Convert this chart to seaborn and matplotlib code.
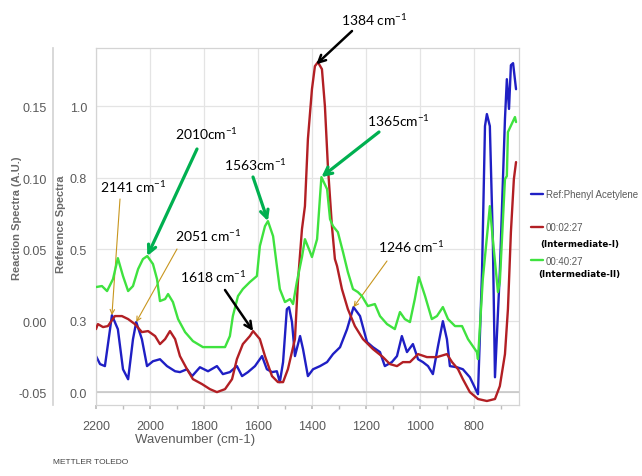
import numpy as np
import seaborn as sns
import matplotlib.pyplot as plt
from matplotlib.ticker import MultipleLocator

# --- data (wavenumber in cm-1) ---
# reference spectrum, phenyl acetylene (Reference Spectra axis)
blue_wn = [2200, 2185, 2167, 2148, 2141, 2119, 2100, 2081, 2063, 2051, 2030, 2011, 1989, 1963,
           1937, 1907, 1889, 1863, 1844, 1815, 1785, 1752, 1730, 1704, 1678, 1659, 1637, 1611,
           1585, 1567, 1548, 1530, 1519, 1507, 1493, 1485, 1474, 1463, 1444, 1433, 1415, 1396,
           1370, 1344, 1322, 1296, 1270, 1246, 1222, 1196, 1174, 1148, 1130, 1104, 1085, 1067,
           1048, 1026, 1007, 989, 970, 952, 933, 915, 900, 889, 863, 841, 815, 785, 770, 759,
           752, 741, 730, 722, 704, 685, 678, 670, 663, 655, 644]
blue_ref = [0.126, 0.098, 0.091, 0.220, 0.269, 0.220, 0.080, 0.045, 0.185, 0.245, 0.185, 0.091,
            0.108, 0.115, 0.091, 0.073, 0.070, 0.080, 0.056, 0.087, 0.073, 0.091, 0.063, 0.070,
            0.091, 0.056, 0.070, 0.091, 0.126, 0.080, 0.070, 0.073, 0.035, 0.105, 0.290, 0.297,
            0.245, 0.126, 0.196, 0.150, 0.056, 0.080, 0.091, 0.105, 0.133, 0.157, 0.220, 0.297,
            0.266, 0.175, 0.157, 0.140, 0.091, 0.105, 0.126, 0.196, 0.140, 0.168, 0.115, 0.105,
            0.091, 0.063, 0.161, 0.248, 0.185, 0.091, 0.087, 0.080, 0.052, -0.007, 0.420, 0.930,
            0.972, 0.930, 0.535, 0.052, 0.420, 0.955, 1.094, 0.990, 1.143, 1.150, 1.059]

# 00:02:27 (Intermediate-I), reaction spectrum
red_wn = [2200, 2193, 2174, 2156, 2130, 2104, 2081, 2056, 2030, 2007, 1981, 1963, 1944, 1926,
          1907, 1889, 1863, 1841, 1807, 1778, 1752, 1722, 1696, 1678, 1656, 1630, 1618, 1593,
          1574, 1548, 1526, 1507, 1489, 1463, 1452, 1437, 1426, 1415, 1400, 1389, 1378, 1363,
          1352, 1341, 1326, 1315, 1307, 1289, 1267, 1241, 1211, 1174, 1137, 1111, 1085, 1063,
          1037, 1007, 974, 937, 900, 881, 859, 841, 815, 785, 752, 722, 704, 685, 674, 663,
          652, 644]
red_au = [-0.0056, -0.0021, -0.0042, -0.0035, 0.0035, 0.0035, 0.0014, -0.0021, -0.0077, -0.0070,
          -0.0105, -0.0161, -0.0126, -0.0070, -0.0126, -0.0245, -0.0336, -0.0406, -0.0441, -0.0476,
          -0.0497, -0.0476, -0.0406, -0.0266, -0.0161, -0.0105, -0.0070, -0.0126, -0.0245, -0.0385,
          -0.0427, -0.0427, -0.0336, -0.0126, 0.0273, 0.0643, 0.0804, 0.1273, 0.1622, 0.1783,
          0.1811, 0.1762, 0.1503, 0.1084, 0.0664, 0.0434, 0.0385, 0.0224, 0.0084, -0.0035,
          -0.0126, -0.0196, -0.0252, -0.0301, -0.0315, -0.0287, -0.0287, -0.0231, -0.0252, -0.0252,
          -0.0231, -0.0287, -0.0336, -0.0406, -0.0497, -0.0545, -0.0559, -0.0545, -0.0455, -0.0231,
          0.0084, 0.0622, 0.0993, 0.1112]

# 00:40:27 (Intermediate-II), reaction spectrum
green_wn = [2200, 2178, 2159, 2137, 2119, 2100, 2081, 2063, 2044, 2026, 2010, 1989, 1974, 1963,
            1944, 1933, 1915, 1896, 1870, 1841, 1804, 1767, 1722, 1704, 1693, 1674, 1656, 1630,
            1604, 1593, 1574, 1563, 1544, 1530, 1519, 1500, 1481, 1470, 1456, 1437, 1426, 1407,
            1400, 1381, 1370, 1365, 1344, 1333, 1322, 1304, 1285, 1267, 1248, 1230, 1215, 1193,
            1167, 1148, 1122, 1093, 1074, 1056, 1037, 1019, 1004, 981, 956, 937, 915, 896, 870,
            844, 822, 789, 785, 767, 748, 741, 730, 711, 704, 685, 678, 674, 648, 644]
green_au = [0.0238, 0.0245, 0.0210, 0.0294, 0.0440, 0.0315, 0.0210, 0.0245, 0.0364, 0.0434,
            0.0455, 0.0399, 0.0294, 0.0140, 0.0154, 0.0189, 0.0133, 0.0014, -0.0077, -0.0140,
            -0.0182, -0.0182, -0.0182, -0.0105, 0.0035, 0.0175, 0.0224, 0.0273, 0.0315, 0.0524,
            0.0664, 0.0699, 0.0594, 0.0385, 0.0224, 0.0133, 0.0154, 0.0119, 0.0273, 0.0448,
            0.0573, 0.0483, 0.0448, 0.0573, 0.0874, 0.1007, 0.0923, 0.0713, 0.0664, 0.0622,
            0.0483, 0.0343, 0.0224, 0.0203, 0.0175, 0.0105, 0.0119, 0.0035, -0.0021, -0.0056,
            0.0063, 0.0014, -0.0007, 0.0154, 0.0308, 0.0175, 0.0014, 0.0035, 0.0098, 0.0014,
            -0.0035, -0.0035, -0.0126, -0.0217, -0.0266, 0.0294, 0.0664, 0.0804, 0.0573, 0.0203,
            0.0273, 0.0993, 0.1014, 0.1322, 0.1427, 0.1392]

series_labels = ["Ref:Phenyl Acetylene", "00:02:27", "00:40:27"]
series_notes = ["(Intermediate-I)", "(Intermediate-II)"]

wn_ticks = [2200, 2000, 1800, 1600, 1400, 1200, 1000, 800]
ref_ticks = [0.0, 0.25, 0.5, 0.75, 1.0]
ref_ticklabels = ["0.0", "0.3", "0.5", "0.8", "1.0"]
au_ticks = [-0.05, 0.0, 0.05, 0.10, 0.15]
au_ticklabels = ["-0.05", "0.00", "0.05", "0.10", "0.15"]

# peak call-outs: label, which trace, wavenumber
peak_labels = ["1384 cm$^{-1}$", "2010cm$^{-1}$", "2141 cm$^{-1}$", "2051 cm$^{-1}$",
               "1563cm$^{-1}$", "1618 cm$^{-1}$", "1365cm$^{-1}$", "1246 cm$^{-1}$"]
peak_trace = ["red", "green", "blue", "blue", "green", "red", "green", "blue"]
peak_wn = [1384, 2010, 2141, 2051, 1563, 1618, 1365, 1246]

# --- style ---
sns.set_theme(style="white")
plt.rcParams['font.family'] = ['Liberation Sans Narrow', 'Liberation Sans', 'DejaVu Sans']
plt.rcParams['mathtext.fontset'] = 'custom'
plt.rcParams['mathtext.rm'] = 'Lato'
plt.rcParams['mathtext.default'] = 'rm'

C_BLUE, C_RED, C_GREEN = "#1f1fc4", "#b21f24", "#3fe23f"
C_ARROW_GREEN, C_ARROW_GOLD = "#00b050", "#c8961e"
GREY = "#5a5a5a"

W, H = 642, 477
fig = plt.figure(figsize=(W / 100, H / 100), dpi=100)
ax = fig.add_axes([96 / W, 71 / H, 423 / W, 357 / H])
ax2 = ax.twinx()

sns.lineplot(x=blue_wn, y=blue_ref, ax=ax, color=C_BLUE, lw=1.7, estimator=None)
sns.lineplot(x=red_wn, y=red_au, ax=ax2, color=C_RED, lw=1.7, estimator=None)
sns.lineplot(x=green_wn, y=green_au, ax=ax2, color=C_GREEN, lw=1.7, estimator=None)

ax.set_xlim(2200, 633)
ax.set_ylim(-0.045, 1.203)
ax2.set_ylim(-0.0587, 0.191)

# grid + frame
ax.set_xticks(wn_ticks)
ax.xaxis.set_minor_locator(MultipleLocator(100))
ax.set_yticks(ref_ticks, ref_ticklabels)
ax.grid(True, which='major', color='#e4e4e4', lw=0.9)
ax.axhline(0, color='#c4c4c4', lw=1.1, zorder=1)
for s in ax.spines.values():
    s.set_color('#d4d4d4')
    s.set_linewidth(0.9)
ax.tick_params(axis='x', which='both', bottom=True, length=3, color='#bdbdbd',
               labelsize=9, labelcolor=GREY, pad=8)
ax.tick_params(axis='y', left=True, length=0, labelsize=9, labelcolor=GREY, pad=6.5)

# reaction axis moved to the far left
ax2.yaxis.tick_left()
ax2.yaxis.set_label_position('left')
for side in ['right', 'top', 'bottom']:
    ax2.spines[side].set_visible(False)
ax2.spines['left'].set_visible(True)
ax2.spines['left'].set_position(('outward', 31))
ax2.spines['left'].set_color('#d4d4d4')
ax2.set_yticks(au_ticks, au_ticklabels)
ax2.tick_params(axis='y', left=True, right=False, length=0, labelsize=9,
                labelcolor=GREY, pad=4.5)

ax.set_xlabel("Wavenumber (cm-1)", fontsize=9.5, color=GREY)
ax.xaxis.set_label_coords(0.234, -0.078)
ax.set_ylabel("Reference Spectra", fontsize=8, color='#6a6a6a', fontweight='bold',
              family='Liberation Sans')
ax.yaxis.set_label_coords(-0.072, 0.51)
ax2.set_ylabel("Reaction Spectra (A.U.)", fontsize=8, color='#6a6a6a', fontweight='bold',
               family='Liberation Sans')
ax2.yaxis.set_label_coords(-0.174, 0.527)

# legend at the right edge
handles = [ax.get_lines()[0], ax2.get_lines()[0], ax2.get_lines()[1]]
leg = fig.legend(handles, series_labels, loc='upper left', bbox_to_anchor=(531 / W, 1 - 190 / H),
                 frameon=False, fontsize=7, handlelength=1.2, handletextpad=0.3,
                 labelspacing=2.4, borderpad=0, borderaxespad=0)
for t in leg.get_texts():
    t.set_color(GREY)
fig.text(540 / W, 1 - 244 / H, series_notes[0], fontsize=6.3, fontweight='bold',
         family='DejaVu Sans', va='center', color='black')
fig.text(538 / W, 1 - 274 / H, series_notes[1], fontsize=6.3, fontweight='bold',
         family='DejaVu Sans', va='center', color='black')

fig.text(53 / W, 1 - 463 / H, "METTLER TOLEDO", fontsize=6, color='#444444', va='center')

# peak call-outs (text centre and arrow tail in image pixels)
text_px = [(374, 20), (206, 134), (133, 187), (208, 236), (255, 165), (213, 277), (398, 121), (411, 247)]
tail_px = [(352, 32), (197, 150), (120, 200), (177, 250), (253, 178), (225, 291), (379, 133), (387, 262)]
trace = {"blue": (ax, blue_wn, blue_ref), "red": (ax2, red_wn, red_au), "green": (ax2, green_wn, green_au)}
arrow_style = {"red": ("black", 1.8, 13), "green": (C_ARROW_GREEN, 2.3, 14), "blue": (C_ARROW_GOLD, 0.8, 8)}

for lab, tr, wn, (tx, ty), (ax_, ay_) in zip(peak_labels, peak_trace, peak_wn, text_px, tail_px):
    a, xs, ys = trace[tr]
    y = np.interp(wn, xs[::-1], ys[::-1])
    col, lw, ms = arrow_style[tr]
    a.annotate('', xy=(wn, y), xycoords='data', xytext=(ax_, H - ay_), textcoords='figure pixels',
               arrowprops=dict(arrowstyle='->', color=col, lw=lw, shrinkA=0, shrinkB=0,
                               mutation_scale=ms), annotation_clip=False)
    fig.text(tx / W, 1 - ty / H, lab, fontsize=10, family='Lato', color='black',
             ha='center', va='center')

fig.savefig("out.png", dpi=100)
